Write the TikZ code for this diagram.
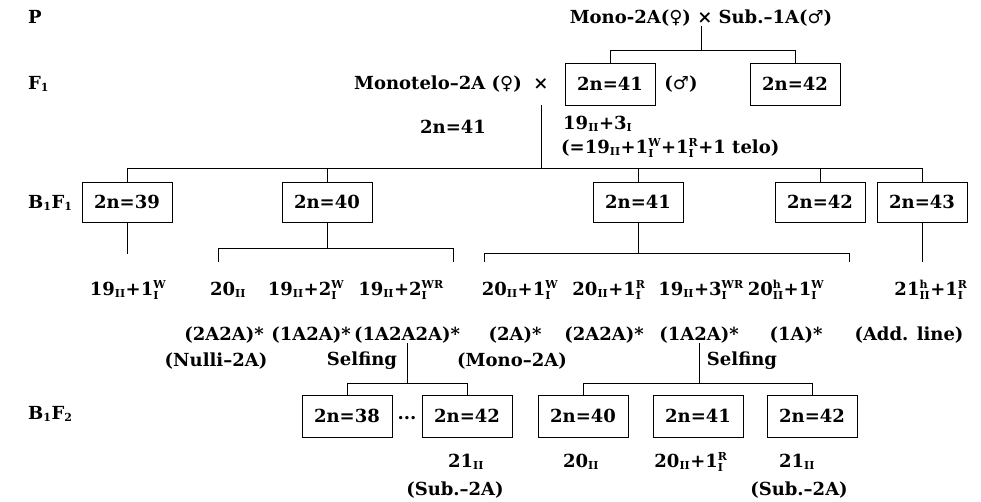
\documentclass[tikz,border=0pt]{standalone}
\usepackage{fontspec}
\setmainfont{DejaVu Serif}
\newfontfamily\symf{DejaVu Sans}
\newcommand\fs{\fontsize{18}{21}\selectfont\bfseries}
\newcommand\sx[1]{\hbox{\fontsize{11}{11}\selectfont\bfseries #1}}
\newcommand\lo[1]{$_{\sx{#1}}$}
\newcommand\UD[2]{$^{\sx{#1}}_{\sx{#2}}$}
\newcommand\fem{{\symf\mdseries ♀}}
\newcommand\mal{{\symf\mdseries ♂}}
\begin{document}
\begin{tikzpicture}[x=1pt,y=-1pt,
  every node/.style={font=\fs, inner sep=0pt},
  box/.style={draw, line width=0.9pt, minimum width=90pt, minimum height=42pt},
  ln/.style={line width=0.8pt}]
\useasboundingbox (0,0) rectangle (981,502);
% generation labels
\node[anchor=west] (P) at (28,17) {P};
\node[anchor=west] (F1) at (28,84) {F\lo{1}};
\node[anchor=west] (B1F1) at (28,203) {B\lo{1}F\lo{1}};
\node[anchor=west] (B1F2) at (28,414) {B\lo{1}F\lo{2}};
% line levels
\coordinate (LP) at (0,50);
\coordinate (L1) at (0,168);
\coordinate (L40) at (0,248);
\coordinate (L41) at (0,253);
\coordinate (LE) at (0,262);
\coordinate (LB) at (0,383);
% P
\node (top) at (701,18) {Mono-2A(\fem) × Sub.–1A(\mal)};
% F1
\node[anchor=east] (mt) at (522,84) {Monotelo–2A (\fem)};
\node (cross) at (541,84) {×};
\node[box] (f41) at (610,84) {2n=41};
\node (male) at (681,84) {(\mal)};
\node[box] (f42) at (795,84) {2n=42};
\draw[ln] (top.south) -- (top.south |- LP);
\draw[ln] (f41.north) |- (f42.north |- LP) -- (f42.north);
\node (n41) at (453,127) {2n=41};
\node[anchor=west] (k1) at (563,124) {19\lo{II}+3\lo{I}};
\node[anchor=west] (k2) at (561,148) {(=19\lo{II}+1\UD{W}{I}+1\UD{R}{I}+1 telo)};
\draw[ln] (cross.south |- f41.south) -- (cross.south |- L1);
% B1F1
\node[box, minimum height=40pt] (b39) at (127,202) {2n=39};
\node[box, minimum height=40pt] (b40) at (327,202) {2n=40};
\node[box, minimum height=40pt] (b41) at (638,202) {2n=41};
\node[box, minimum height=40pt] (b42) at (820,202) {2n=42};
\node[box, minimum height=40pt] (b43) at (922,202) {2n=43};
\draw[ln] (b39.north) -- (b39.north |- L1) -- (b43.north |- L1) -- (b43.north);
\foreach \n in {b40,b41,b42} \draw[ln] (\n.north) -- (\n.north |- L1);
% formulas
\node (g1) at (128,290) {19\lo{II}+1\UD{W}{I}};
\node (g2) at (228,290) {20\lo{II}};
\node (g3) at (306,290) {19\lo{II}+2\UD{W}{I}};
\node (g4) at (401,290) {19\lo{II}+2\UD{WR}{I}};
\node (g5) at (520,290) {20\lo{II}+1\UD{W}{I}};
\node (g6) at (609,290) {20\lo{II}+1\UD{R}{I}};
\node (g7) at (701,290) {19\lo{II}+3\UD{WR}{I}};
\node (g8) at (786,290) {20\UD{h}{II}+1\UD{W}{I}};
\node (g9) at (931,290) {21\UD{h}{II}+1\UD{R}{I}};
\coordinate (a1) at (218,262);
\coordinate (a2) at (453,262);
\coordinate (a3) at (484,262);
\coordinate (a4) at (849,262);
\draw[ln] (b39.south) -- (b39.south |- 0,254);
\draw[ln] (b40.south) -- (b40.south |- L40);
\draw[ln] (a1) -- (a1 |- L40) -- (a2 |- L40) -- (a2);
\draw[ln] (b41.south) -- (b41.south |- L41);
\draw[ln] (a3) -- (a3 |- L41) -- (a4 |- L41) -- (a4);
\draw[ln] (b43.south) -- (b43.south |- LE);
% karyotype groups
\node (h1) at (224,335) {(2A2A)*};
\node (h2) at (311,335) {(1A2A)*};
\node (h3) at (407,335) {(1A2A2A)*};
\node (h4) at (515,335) {(2A)*};
\node (h5) at (604,335) {(2A2A)*};
\node (h6) at (699,335) {(1A2A)*};
\node (h7) at (796,335) {(1A)*};
\node (h8) at (909,335) {(Add. line)};
\node (m1) at (216,361) {(Nulli–2A)};
\node (sf1) at (362,361) {Selfing};
\node (m2) at (512,361) {(Mono–2A)};
\node (sf2) at (742,361) {Selfing};
% B1F2
\node[box] (c38) at (347,416) {2n=38};
\node (dots) at (407,418) {...};
\node[box] (c42a) at (467,416) {2n=42};
\node[box] (c40) at (583,416) {2n=40};
\node[box] (c41) at (698,416) {2n=41};
\node[box] (c42b) at (812,416) {2n=42};
\draw[ln] (h3.south) -- (h3.south |- LB);
\draw[ln] (c38.north) -- (c38.north |- LB) -- (c42a.north |- LB) -- (c42a.north);
\draw[ln] (h6.south) -- (h6.south |- LB);
\draw[ln] (c40.north) -- (c40.north |- LB) -- (c42b.north |- LB) -- (c42b.north);
\node (d1) at (466,462) {21\lo{II}};
\node (e1) at (455,490) {(Sub.–2A)};
\node (d2) at (581,462) {20\lo{II}};
\node (d3) at (691,462) {20\lo{II}+1\UD{R}{I}};
\node (d4) at (797,462) {21\lo{II}};
\node (e2) at (799,490) {(Sub.–2A)};
\end{tikzpicture}
\end{document}
